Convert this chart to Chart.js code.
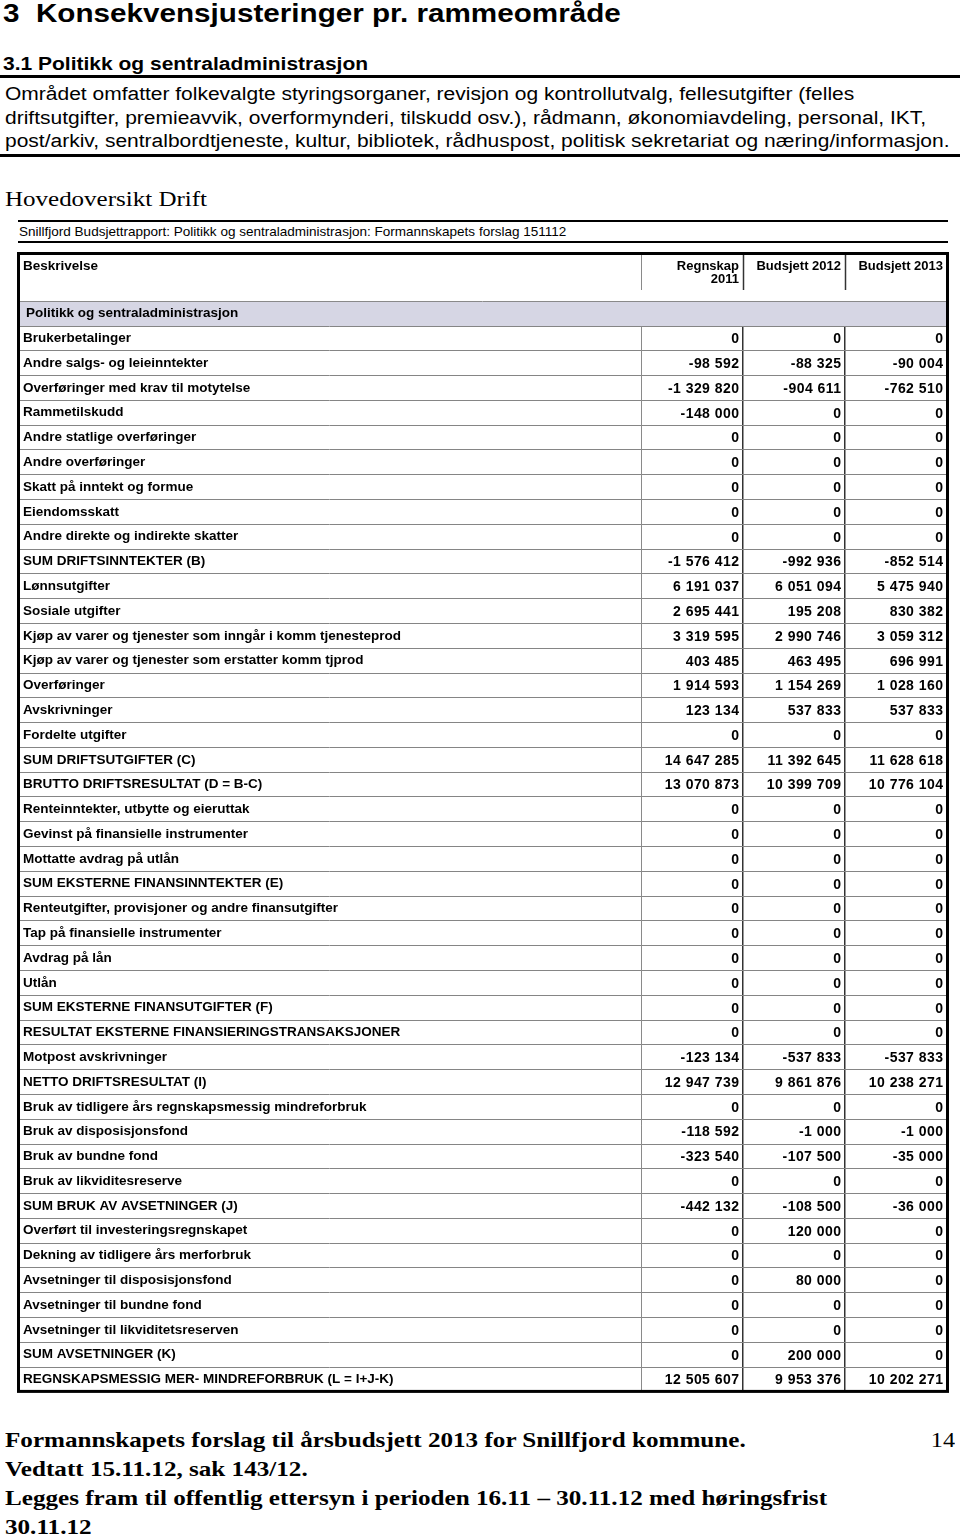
<!DOCTYPE html>
<html>
<head>
<meta charset="utf-8">
<script src="https://cdn.jsdelivr.net/npm/chart.js@4.4.1/dist/chart.umd.min.js"></script>
<style>
  html, body { margin: 0; padding: 0; background: #fff; }
  body { width: 960px; height: 1537px; position: relative; overflow: hidden; color: #000;
         font-family: "Liberation Sans", Arial, Helvetica, sans-serif; }
  .abs { position: absolute; white-space: nowrap; transform-origin: 0 0; }
  #h1 { left: 3px; top: -2px; font-size: 26px; line-height: 30px; font-weight: bold; transform: scaleX(1.14); }
  #h2 { left: 3px; top: 53px; font-size: 18px; line-height: 22px; font-weight: bold; transform: scaleX(1.166); }
  .rule { position: absolute; left: 0; width: 960px; height: 3px; background: #000; }
  #para { left: 5px; top: 83px; font-size: 18px; line-height: 23.5px; transform: scaleX(1.166); }
  #hoved { left: 5px; top: 187px; font-family: "Liberation Serif", "Times New Roman", serif; font-size: 21px; line-height: 24px; transform: scaleX(1.19); }
  #titlebar { position: absolute; left: 18px; top: 220px; width: 930px; height: 19px;
              border-top: 2px solid #000; border-bottom: 2px solid #000; box-sizing: content-box; }
  #titletext { left: 1px; top: 0; font-size: 13px; line-height: 19px; transform: scaleX(1.04); }
  #tablewrap { position: absolute; left: 0; top: 250px; width: 960px; height: 1150px; }
  .foot { font-family: "Liberation Serif", "Times New Roman", serif; font-size: 22px; line-height: 29px; font-weight: bold; }
  #foot { left: 5px; top: 1425px; transform: scaleX(1.142); }
  #pageno { right: 5px; top: 1425px; font-weight: normal; transform-origin: 100% 0; transform: scaleX(1.1); }
</style>
</head>
<body>
<div class="abs" id="h1">3&nbsp;&nbsp;Konsekvensjusteringer pr. rammeområde</div>
<div class="abs" id="h2">3.1 Politikk og sentraladministrasjon</div>
<div class="rule" style="top:75px"></div>
<div class="abs" id="para">Området omfatter folkevalgte styringsorganer, revisjon og kontrollutvalg, fellesutgifter (felles<br>driftsutgifter, premieavvik, overformynderi, tilskudd osv.), rådmann, økonomiavdeling, personal, IKT,<br>post/arkiv, sentralbordtjeneste, kultur, bibliotek, rådhuspost, politisk sekretariat og næring/informasjon.</div>
<div class="rule" style="top:154px"></div>
<div class="abs" id="hoved">Hovedoversikt Drift</div>
<div id="titlebar"><div class="abs" id="titletext">Snillfjord Budsjettrapport: Politikk og sentraladministrasjon: Formannskapets forslag 151112</div></div>
<div id="tablewrap"><canvas id="c" width="960" height="1150"></canvas></div>
<div class="abs foot" id="foot">Formannskapets forslag til årsbudsjett 2013 for Snillfjord kommune.<br>Vedtatt 15.11.12, sak 143/12.<br>Legges fram til offentlig ettersyn i perioden 16.11 – 30.11.12 med høringsfrist<br>30.11.12</div>
<div class="abs foot" id="pageno">14</div>

<script>
// ---------- DATA ----------
const descriptionHeader = 'Beskrivelse';
const sectionTitle = 'Politikk og sentraladministrasjon';
const columnLabels = ['Regnskap 2011', 'Budsjett 2012', 'Budsjett 2013'];
const columnHeaderLines = [['Regnskap', '2011'], ['Budsjett 2012'], ['Budsjett 2013']];

const rowLabels = [
  'Brukerbetalinger',
  'Andre salgs- og leieinntekter',
  'Overføringer med krav til motytelse',
  'Rammetilskudd',
  'Andre statlige overføringer',
  'Andre overføringer',
  'Skatt på inntekt og formue',
  'Eiendomsskatt',
  'Andre direkte og indirekte skatter',
  'SUM DRIFTSINNTEKTER (B)',
  'Lønnsutgifter',
  'Sosiale utgifter',
  'Kjøp av varer og tjenester som inngår i komm tjenesteprod',
  'Kjøp av varer og tjenester som erstatter komm tjprod',
  'Overføringer',
  'Avskrivninger',
  'Fordelte utgifter',
  'SUM DRIFTSUTGIFTER (C)',
  'BRUTTO DRIFTSRESULTAT (D = B-C)',
  'Renteinntekter, utbytte og eieruttak',
  'Gevinst på finansielle instrumenter',
  'Mottatte avdrag på utlån',
  'SUM EKSTERNE FINANSINNTEKTER (E)',
  'Renteutgifter, provisjoner og andre finansutgifter',
  'Tap på finansielle instrumenter',
  'Avdrag på lån',
  'Utlån',
  'SUM EKSTERNE FINANSUTGIFTER (F)',
  'RESULTAT EKSTERNE FINANSIERINGSTRANSAKSJONER',
  'Motpost avskrivninger',
  'NETTO DRIFTSRESULTAT (I)',
  'Bruk av tidligere års regnskapsmessig mindreforbruk',
  'Bruk av disposisjonsfond',
  'Bruk av bundne fond',
  'Bruk av likviditesreserve',
  'SUM BRUK AV AVSETNINGER (J)',
  'Overført til investeringsregnskapet',
  'Dekning av tidligere års merforbruk',
  'Avsetninger til disposisjonsfond',
  'Avsetninger til bundne fond',
  'Avsetninger til likviditetsreserven',
  'SUM AVSETNINGER (K)',
  'REGNSKAPSMESSIG MER- MINDREFORBRUK (L = I+J-K)'
];

const regnskap2011 = [
  0, -98592, -1329820, -148000, 0, 0, 0, 0, 0, -1576412,
  6191037, 2695441, 3319595, 403485, 1914593, 123134, 0, 14647285, 13070873,
  0, 0, 0, 0, 0, 0, 0, 0, 0, 0,
  -123134, 12947739, 0, -118592, -323540, 0, -442132,
  0, 0, 0, 0, 0, 0, 12505607
];
const budsjett2012 = [
  0, -88325, -904611, 0, 0, 0, 0, 0, 0, -992936,
  6051094, 195208, 2990746, 463495, 1154269, 537833, 0, 11392645, 10399709,
  0, 0, 0, 0, 0, 0, 0, 0, 0, 0,
  -537833, 9861876, 0, -1000, -107500, 0, -108500,
  120000, 0, 80000, 0, 0, 200000, 9953376
];
const budsjett2013 = [
  0, -90004, -762510, 0, 0, 0, 0, 0, 0, -852514,
  5475940, 830382, 3059312, 696991, 1028160, 537833, 0, 11628618, 10776104,
  0, 0, 0, 0, 0, 0, 0, 0, 0, 0,
  -537833, 10238271, 0, -1000, -35000, 0, -36000,
  0, 0, 0, 0, 0, 0, 10202271
];

// ---------- RENDER ----------
const FONT_FAMILY = "'Liberation Sans', Arial, Helvetica, sans-serif";
Chart.defaults.font.family = FONT_FAMILY;

function fmt(v) {
  const s = Math.abs(v).toString().replace(/\B(?=(\d{3})+(?!\d))/g, ' ');
  return (v < 0 ? '-' : '') + s;
}

const seriesList = [regnskap2011, budsjett2012, budsjett2013];
const datasets = seriesList.map((arr, ci) => ({
  label: columnLabels[ci],
  data: arr.map((v, ri) => ({ x: columnLabels[ci], y: rowLabels[ri], v: v })),
  pointRadius: 0,
  pointHoverRadius: 0,
  showLine: false
}));

const cellText = {
  id: 'cellText',
  afterDatasetsDraw(chart) {
    const ctx = chart.ctx, xs = chart.scales.x;
    const half = (xs.getPixelForValue(1) - xs.getPixelForValue(0)) / 2;
    ctx.save();
    ctx.font = 'bold 14px ' + FONT_FAMILY;
    ctx.fillStyle = '#000';
    ctx.textAlign = 'right';
    ctx.textBaseline = 'middle';
    if ('letterSpacing' in ctx) ctx.letterSpacing = '0.45px';
    chart.data.datasets.forEach((ds, di) => {
      const meta = chart.getDatasetMeta(di);
      meta.data.forEach((pt, i) => {
        ctx.fillText(fmt(ds.data[i].v), pt.x + half - 3.6, pt.y + 1);
      });
    });
    ctx.restore();
  }
};

const tableFrame = {
  id: 'tableFrame',
  afterDraw(chart) {
    const ctx = chart.ctx, ca = chart.chartArea, xs = chart.scales.x, ys = chart.scales.y;
    const rowH = ys.getPixelForValue(1) - ys.getPixelForValue(0);
    const half = (xs.getPixelForValue(1) - xs.getPixelForValue(0)) / 2;
    const top = xs.top;
    ctx.save();
    // section row
    const secTop = Math.round(ca.top - rowH);
    ctx.fillStyle = 'rgb(214,214,228)';
    ctx.fillRect(20, secTop + 1, ca.right - 21, Math.round(ca.top) - secTop - 1);
    ctx.strokeStyle = '#8a8a8a';
    ctx.lineWidth = 1;
    ctx.beginPath(); ctx.moveTo(18, secTop + 0.5); ctx.lineTo(ca.right, secTop + 0.5); ctx.stroke();
    // header column separators
    for (let i = 0; i < columnLabels.length; i++) {
      const x = Math.round(xs.getPixelForValue(i) - half) + 0.5;
      ctx.strokeStyle = i === 0 ? '#8a8a8a' : '#333';
      ctx.lineWidth = i === 0 ? 1 : 1.5;
      ctx.beginPath(); ctx.moveTo(x, top); ctx.lineTo(x, top + 37); ctx.stroke();
    }
    // outer border
    ctx.strokeStyle = '#000';
    ctx.lineWidth = 3;
    ctx.strokeRect(18.5, top + 0.5, ca.right + 0.5 - 18.5, ca.bottom - 0.5 - (top + 0.5));
    // header texts
    ctx.fillStyle = '#000';
    ctx.font = 'bold 13.5px ' + FONT_FAMILY;
    ctx.textAlign = 'left';
    ctx.textBaseline = 'middle';
    ctx.fillText(descriptionHeader, 23, top + 13);
    ctx.fillText(sectionTitle, 26, ca.top - rowH / 2);
    ctx.restore();
  }
};

new Chart(document.getElementById('c'), {
  type: 'scatter',
  data: { datasets: datasets },
  plugins: [cellText, tableFrame],
  options: {
    responsive: false,
    animation: false,
    events: [],
    layout: { padding: { top: 3, left: 23, right: 13, bottom: 3 } },
    plugins: { legend: { display: false }, tooltip: { enabled: false }, title: { display: false } },
    scales: {
      x: {
        type: 'category',
        position: 'top',
        labels: columnLabels,
        offset: true,
        grid: {
          offset: true,
          drawTicks: false,
          color: (c) => (c.index === 0 ? '#8a8a8a' : '#333'),
          lineWidth: (c) => (c.index === 0 ? 1 : 1.5)
        },
        border: { display: false },
        ticks: {
          autoSkip: false,
          maxRotation: 0,
          minRotation: 0,
          align: 'end',
          crossAlign: 'far',
          labelOffset: 47,
          padding: 40.5,
          color: '#000',
          font: { size: 13, weight: 'bold', lineHeight: 1 },
          callback: (v, i) => columnHeaderLines[i]
        },
        afterFit: (s) => { s.height = 73; }
      },
      y: {
        type: 'category',
        position: 'left',
        labels: rowLabels,
        offset: true,
        grid: {
          offset: true,
          color: '#858585',
          lineWidth: 1,
          drawTicks: true,
          tickLength: 623,
          tickColor: '#858585',
          tickWidth: 1
        },
        border: { display: true, color: '#8a8a8a', width: 1 },
        ticks: {
          autoSkip: false,
          crossAlign: 'far',
          padding: 0,
          color: '#000',
          font: { size: 13.5, weight: 'bold' }
        },
        afterFit: (s) => { s.width = 618; }
      }
    }
  }
});
</script>
</body>
</html>
